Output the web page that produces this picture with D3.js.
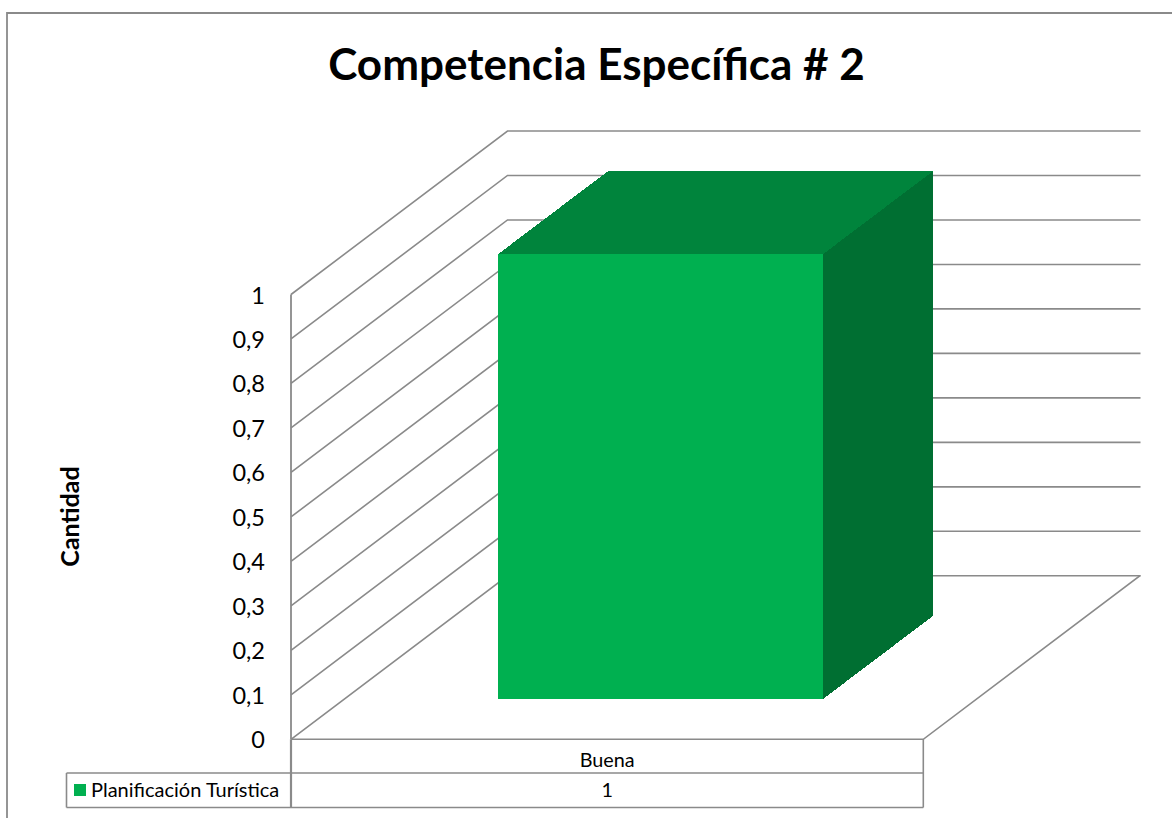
<!DOCTYPE html>
<html><head><meta charset="utf-8">
<script src="https://cdn.jsdelivr.net/npm/d3@7"></script>
<style>html,body{margin:0;padding:0;background:#fff}svg{display:block}text{font-family:Lato,Carlito,"Open Sans",sans-serif;fill:#000}</style>
</head><body><svg id="c" width="1172" height="818"></svg>
<script>
const chartTitle = "Competencia Específica # 2";
const yAxisTitle = "Cantidad";
const categories = ["Buena"];
const seriesNames = ["Planificación Turística"];
const seriesValues = [1];
const yTicks = [0,0.1,0.2,0.3,0.4,0.5,0.6,0.7,0.8,0.9,1];

const svg = d3.select("#c");
const grey = "#8a8a8a";
const y = d3.scaleLinear().domain([0,1]).range([739.3,294.5]);
const x = d3.scaleBand().domain(categories).range([291,923.3]).paddingInner(0.321).paddingOuter(0.321);
const dx = d3.scaleLinear().domain([0,1]).range([0,216.5]);
const dy = d3.scaleLinear().domain([0,1]).range([0,-163.5]);
const fmt = v => String(v).replace(".",",");
const P = (px,v,d) => [px+dx(d), y(v)+dy(d)];
const line = d3.line();

// frame: left and top only, running off the picture
svg.append("path").attr("d","M7,818V13H1172").attr("fill","none").attr("stroke",grey).attr("stroke-width",1.8);

// gridlines: side wall + back wall
const [x0,x1] = x.range();
const wallRight = 1140.5;
svg.append("g").selectAll("path").data(yTicks).join("path")
  .attr("fill","none").attr("stroke",grey).attr("stroke-width",1.6)
  .attr("d",v=>line([P(x0,v,0),P(x0,v,1),[wallRight,y(v)+dy(1)]]));
svg.append("path").attr("fill","none").attr("stroke",grey).attr("stroke-width",1.6)
  .attr("d",line([P(x0,0,0),P(x1,0,0),P(x1,0,1),[wallRight,y(0)+dy(1)]]));
svg.append("path").attr("fill","none").attr("stroke",grey).attr("stroke-width",1.8)
  .attr("d",line([P(x0,1,0),P(x0,0,0)]));

// bar
const d0=0.245,d1=0.756;
categories.forEach((c,i)=>{
  const l=x(c), r=l+x.bandwidth(), v=seriesValues[i];
  const g=svg.append("g").attr("shape-rendering","crispEdges");
  g.append("path").attr("fill","#006f32").attr("d",line([P(r,0,d0),P(r,0,d1),P(r,v,d1),P(r,v,d0)])+"Z");
  g.append("path").attr("fill","#00843c").attr("d",line([P(l,v,d0),P(l,v,d1),P(r,v,d1),P(r,v,d0)])+"Z");
  g.append("path").attr("fill","#00b050").attr("d",line([P(l,0,d0),P(r,0,d0),P(r,v,d0),P(l,v,d0)])+"Z");
});

// y tick labels
svg.append("g").selectAll("text").data(yTicks).join("text")
  .attr("x",265).attr("y",v=>y(v)+9).attr("text-anchor","end")
  .attr("font-size",23.5).text(fmt);

// axis title
svg.append("text").attr("transform","translate(79,516.5) rotate(-90)").attr("text-anchor","middle")
  .attr("font-size",25).attr("font-weight",700).text(yAxisTitle);
// title
svg.append("text").attr("x",596.5).attr("y",80).attr("text-anchor","middle")
  .attr("font-size",44).attr("font-weight",700).text(chartTitle);

// data table
const rowA=739.3,rowB=773,rowC=807.5,legL=66.5;
const t=svg.append("g").attr("fill","none").attr("stroke",grey).attr("stroke-width",1.6);
t.append("path").attr("d",line([[x0,rowA],[x0,rowC]])).attr("stroke-width",2.2);
t.append("path").attr("d",line([[x1,rowA],[x1,rowC]]));
t.append("path").attr("d",line([[legL,rowB],[x1,rowB]]));
t.append("path").attr("d",line([[legL,rowC],[x1,rowC]]));
t.append("path").attr("d",line([[legL,rowB],[legL,rowC]]));
svg.append("rect").attr("x",74).attr("y",784).attr("width",12).attr("height",12).attr("fill","#00b050");
svg.append("text").attr("x",91).attr("y",797).attr("font-size",20).text(seriesNames[0]);
svg.append("text").attr("x",(x0+x1)/2).attr("y",767).attr("text-anchor","middle").attr("font-size",19.8).text(categories[0]);
svg.append("text").attr("x",(x0+x1)/2).attr("y",797).attr("text-anchor","middle").attr("font-size",19.8).text(seriesValues[0]);
</script></body></html>
